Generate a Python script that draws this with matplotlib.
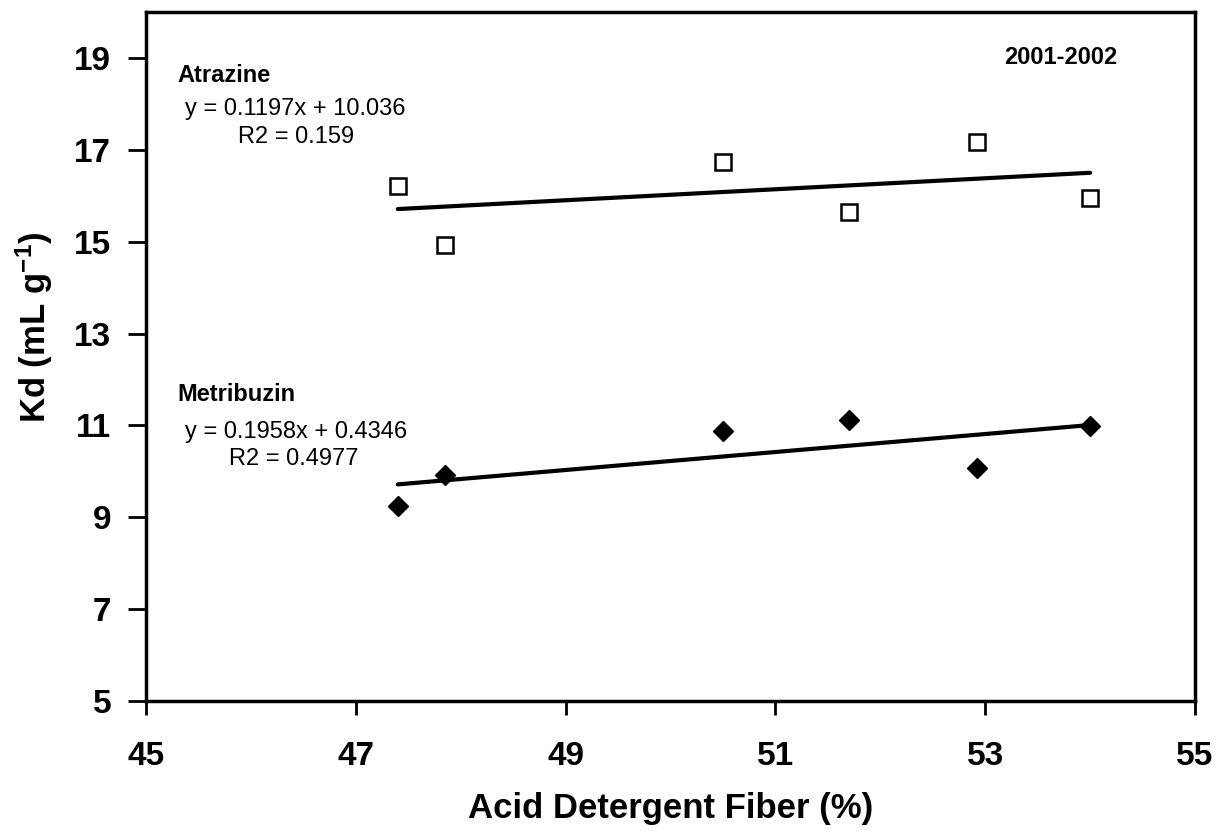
import numpy as np
import matplotlib
matplotlib.use("Agg")
import matplotlib.pyplot as plt

plt.rcParams['font.family'] = ['Liberation Sans', 'DejaVu Sans']
plt.rcParams['mathtext.fontset'] = 'custom'
plt.rcParams['mathtext.bf'] = 'Liberation Sans:bold'
plt.rcParams['mathtext.rm'] = 'Liberation Sans:bold'
plt.rcParams['mathtext.default'] = 'bf'

# Data
adf = [47.4, 47.85, 50.5, 51.7, 52.92, 54.0]
atrazine_kd = [16.22, 14.93, 16.74, 15.65, 17.17, 15.96]
metribuzin_kd = [9.24, 9.91, 10.87, 11.11, 10.07, 10.98]

# Fitted trend lines as printed on the chart
atrazine_fit = (0.1197, 10.036)
metribuzin_fit = (0.1958, 0.4346)

x_ticks = [45, 47, 49, 51, 53, 55]
y_ticks = [5, 7, 9, 11, 13, 15, 17, 19]

fig = plt.figure(figsize=(12.18, 8.39), dpi=100)
ax = fig.add_axes([0.1199, 0.1645, 0.8612, 0.8212])

xfit = np.array([min(adf), max(adf)])
ax.plot(xfit, atrazine_fit[0] * xfit + atrazine_fit[1], color='black', lw=3, solid_capstyle='round')
ax.plot(xfit, metribuzin_fit[0] * xfit + metribuzin_fit[1], color='black', lw=3, solid_capstyle='round')

ax.plot(adf, atrazine_kd, linestyle='none', marker='s', markersize=11,
        markerfacecolor='white', markeredgecolor='black', markeredgewidth=1.8)
ax.plot(adf, metribuzin_kd, linestyle='none', marker='D', markersize=10,
        markerfacecolor='black', markeredgecolor='black')

ax.set_xlim(45, 55)
ax.set_ylim(5, 20)
ax.set_xticks(x_ticks)
ax.set_yticks(y_ticks)
ax.tick_params(direction='out', width=2, labelsize=24)
ax.tick_params(axis='y', length=13, pad=12)
ax.tick_params(axis='x', length=10, pad=18.5)
for lbl in ax.get_xticklabels() + ax.get_yticklabels():
    lbl.set_fontweight('bold')
for sp in ax.spines.values():
    sp.set_linewidth(2.5)

ax.set_xlabel('Acid Detergent Fiber (%)', fontsize=25, fontweight='bold', labelpad=14.5)
ax.set_ylabel('Kd (mL g$^{-1}$)', fontsize=25, fontweight='bold')
ax.yaxis.set_label_coords(-0.087, 0.542)

ax.text(45.3, 18.61, 'Atrazine', fontsize=17, fontweight='bold', ha='left', va='center')
ax.text(46.42, 17.88, 'y = 0.1197x + 10.036', fontsize=17, ha='center', va='center')
ax.text(46.43, 17.28, 'R2 = 0.159', fontsize=17, ha='center', va='center')

ax.text(45.3, 11.67, 'Metribuzin', fontsize=17, fontweight='bold', ha='left', va='center')
ax.text(46.43, 10.85, 'y = 0.1958x + 0.4346', fontsize=17, ha='center', va='center')
ax.text(46.41, 10.26, 'R2 = 0.4977', fontsize=17, ha='center', va='center')

ax.text(54.26, 19.02, '2001-2002', fontsize=17, fontweight='bold', ha='right', va='center')

fig.savefig('out.png', dpi=100)
